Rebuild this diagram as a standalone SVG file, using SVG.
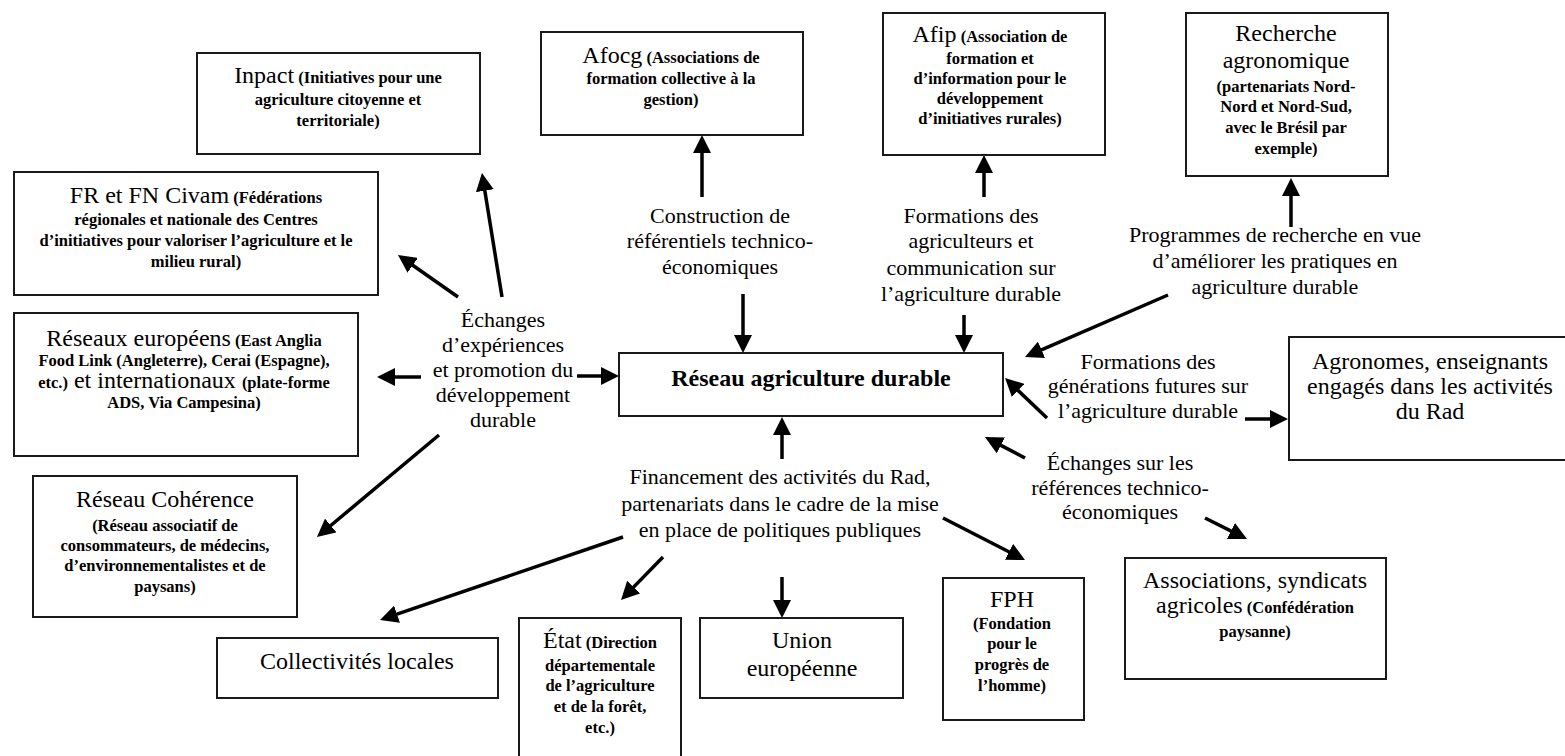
<svg xmlns="http://www.w3.org/2000/svg" width="1565" height="756" viewBox="0 0 1565 756" font-family="Liberation Serif, Times New Roman, DejaVu Serif, serif">
<style>
.bg{fill:#fff}
.box{fill:#fff;stroke:#1a1a1a;stroke-width:2}
.t{fill:#000;text-anchor:middle}
.big{font-size:24px}
.sm{font-size:16.5px;font-weight:bold}
.lbl{font-size:22px}
.title{font-size:24px;font-weight:bold}
.c{stroke:#000;stroke-width:3.5;fill:none;marker-end:url(#ah)}
</style>
<defs>
<marker id="ah" markerUnits="userSpaceOnUse" markerWidth="18" markerHeight="18" refX="7" refY="9" orient="auto">
<path d="M0,0 L18,9 L0,18 z" fill="#000"/>
</marker>
</defs>
<rect class="bg" x="0" y="0" width="1565" height="756"/>

<g id="connectors">
<line class="c" x1="458" y1="297" x2="407" y2="261.3"/>
<line class="c" x1="502" y1="297" x2="483.7" y2="183.8"/>
<line class="c" x1="421" y1="377" x2="388" y2="377"/>
<line class="c" x1="577" y1="376" x2="608" y2="376"/>
<line class="c" x1="439" y1="435" x2="325.4" y2="530"/>
<line class="c" x1="702" y1="197" x2="702" y2="146"/>
<line class="c" x1="743" y1="294" x2="743" y2="342"/>
<line class="c" x1="984" y1="197" x2="984" y2="166"/>
<line class="c" x1="964" y1="315" x2="964" y2="342"/>
<line class="c" x1="1291" y1="227" x2="1291" y2="189"/>
<line class="c" x1="1168" y1="295" x2="1035.1" y2="352.6"/>
<line class="c" x1="1047" y1="418" x2="1013" y2="385.6"/>
<line class="c" x1="1245" y1="419" x2="1277" y2="419"/>
<line class="c" x1="1025" y1="458" x2="994.7" y2="442.1"/>
<line class="c" x1="1205" y1="518" x2="1237.2" y2="534.1"/>
<line class="c" x1="782" y1="459" x2="782" y2="428"/>
<line class="c" x1="623" y1="537" x2="390.4" y2="616.4"/>
<line class="c" x1="663" y1="557" x2="628.7" y2="592.1"/>
<line class="c" x1="782" y1="577" x2="782" y2="607"/>
<line class="c" x1="943" y1="518" x2="1015.2" y2="555"/>
</g>

<g id="labels">
<text class="t lbl"><tspan x="503" y="327">Échanges</tspan><tspan x="503" y="352">d’expériences</tspan><tspan x="503" y="377">et promotion du</tspan><tspan x="503" y="402">développement</tspan><tspan x="503" y="427">durable</tspan></text>
<text class="t lbl"><tspan x="720" y="223">Construction de</tspan><tspan x="720" y="248">référentiels technico-</tspan><tspan x="720" y="274">économiques</tspan></text>
<text class="t lbl"><tspan x="971" y="223">Formations des</tspan><tspan x="971" y="248">agriculteurs et</tspan><tspan x="971" y="275">communication sur</tspan><tspan x="971" y="301">l’agriculture durable</tspan></text>
<text class="t lbl"><tspan x="1275" y="242">Programmes de recherche en vue</tspan><tspan x="1275" y="268">d’améliorer les pratiques en</tspan><tspan x="1275" y="294">agriculture durable</tspan></text>
<text class="t lbl"><tspan x="1148" y="369">Formations des</tspan><tspan x="1148" y="393">générations futures sur</tspan><tspan x="1148" y="418">l’agriculture durable</tspan></text>
<text class="t lbl"><tspan x="1120" y="470">Échanges sur les</tspan><tspan x="1120" y="495">références technico-</tspan><tspan x="1120" y="519">économiques</tspan></text>
<text class="t lbl"><tspan x="780" y="484">Financement des activités du Rad,</tspan><tspan x="780" y="511">partenariats dans le cadre de la mise</tspan><tspan x="780" y="537">en place de politiques publiques</tspan></text>
</g>

<g id="rad">
<rect class="box" x="619" y="353" width="384" height="63"/>
<text class="t title" x="811" y="386">Réseau agriculture durable</text>
</g>

<g id="inpact">
<rect class="box" x="197" y="53" width="283" height="101"/>
<text class="t" x="338" y="83"><tspan class="big">Inpact</tspan><tspan class="sm"> (Initiatives pour une</tspan></text>
<text class="t sm" x="338" y="105">agriculture citoyenne et</text>
<text class="t sm" x="338" y="126">territoriale)</text>
</g>

<g id="civam">
<rect class="box" x="14" y="172" width="364" height="123"/>
<text class="t" x="196" y="203"><tspan class="big">FR et FN Civam</tspan><tspan class="sm"> (Fédérations</tspan></text>
<text class="t sm" x="196" y="225">régionales et nationale des Centres</text>
<text class="t sm" x="196" y="246">d’initiatives pour valoriser l’agriculture et le</text>
<text class="t sm" x="196" y="267">milieu rural)</text>
</g>

<g id="afocg">
<rect class="box" x="541" y="32" width="262" height="103"/>
<text class="t" x="671" y="63"><tspan class="big">Afocg</tspan><tspan class="sm"> (Associations de</tspan></text>
<text class="t sm" x="671" y="84">formation collective à la</text>
<text class="t sm" x="671" y="105">gestion)</text>
</g>

<g id="afip">
<rect class="box" x="883" y="13" width="222" height="142"/>
<text class="t" x="990" y="42"><tspan class="big">Afip</tspan><tspan class="sm"> (Association de</tspan></text>
<text class="t sm" x="990" y="64">formation et</text>
<text class="t sm" x="990" y="84">d’information pour le</text>
<text class="t sm" x="990" y="104">développement</text>
<text class="t sm" x="990" y="124">d’initiatives rurales)</text>
</g>

<g id="recherche">
<rect class="box" x="1186" y="13" width="202" height="163"/>
<text class="t big" x="1286" y="41">Recherche</text>
<text class="t big" x="1286" y="68">agronomique</text>
<text class="t sm" x="1286" y="92">(partenariats Nord-</text>
<text class="t sm" x="1286" y="112">Nord et Nord-Sud,</text>
<text class="t sm" x="1286" y="133">avec le Brésil par</text>
<text class="t sm" x="1286" y="154">exemple)</text>
</g>

<g id="reseaux-europeens">
<rect class="box" x="14" y="313" width="344" height="143"/>
<text class="t" x="184" y="346"><tspan class="big">Réseaux européens</tspan><tspan class="sm"> (East Anglia</tspan></text>
<text class="t sm" x="184" y="366">Food Link (Angleterre), Cerai (Espagne),</text>
<text class="t" x="184" y="388"><tspan class="sm">etc.)</tspan><tspan class="big"> et internationaux </tspan><tspan class="sm">(plate-forme</tspan></text>
<text class="t sm" x="184" y="408">ADS, Via Campesina)</text>
</g>

<g id="coherence">
<rect class="box" x="33" y="476" width="264" height="141"/>
<text class="t big" x="165" y="507">Réseau Cohérence</text>
<text class="t sm" x="165" y="531">(Réseau associatif de</text>
<text class="t sm" x="165" y="551">consommateurs, de médecins,</text>
<text class="t sm" x="165" y="571">d’environnementalistes et de</text>
<text class="t sm" x="165" y="592">paysans)</text>
</g>

<g id="collectivites">
<rect class="box" x="217" y="638" width="281" height="60"/>
<text class="t big" x="357" y="669">Collectivités locales</text>
</g>

<g id="etat">
<rect class="box" x="519" y="618" width="162" height="150"/>
<text class="t" x="600" y="648"><tspan class="big">État</tspan><tspan class="sm"> (Direction</tspan></text>
<text class="t sm" x="600" y="671">départementale</text>
<text class="t sm" x="600" y="691">de l’agriculture</text>
<text class="t sm" x="600" y="712">et de la forêt,</text>
<text class="t sm" x="600" y="733">etc.)</text>
</g>

<g id="union">
<rect class="box" x="700" y="618" width="203" height="80"/>
<text class="t big" x="802" y="648">Union</text>
<text class="t big" x="802" y="676">européenne</text>
</g>

<g id="fph">
<rect class="box" x="943" y="578" width="141" height="142"/>
<text class="t big" x="1012" y="607">FPH</text>
<text class="t sm" x="1012" y="629">(Fondation</text>
<text class="t sm" x="1012" y="649">pour le</text>
<text class="t sm" x="1012" y="670">progrès de</text>
<text class="t sm" x="1012" y="691">l’homme)</text>
</g>

<g id="associations">
<rect class="box" x="1125" y="558" width="261" height="121"/>
<text class="t big" x="1255" y="588">Associations, syndicats</text>
<text class="t" x="1255" y="613"><tspan class="big">agricoles</tspan><tspan class="sm"> (Confédération</tspan></text>
<text class="t sm" x="1255" y="637">paysanne)</text>
</g>

<g id="agronomes">
<rect class="box" x="1289" y="337" width="290" height="123"/>
<text class="t big" x="1430" y="369">Agronomes, enseignants</text>
<text class="t big" x="1430" y="394">engagés dans les activités</text>
<text class="t big" x="1430" y="419">du Rad</text>
</g>
</svg>
